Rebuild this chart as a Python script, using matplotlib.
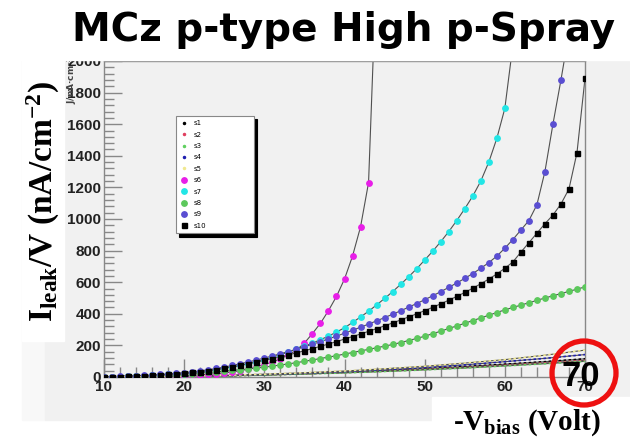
import matplotlib
matplotlib.use("Agg")
import matplotlib.pyplot as plt
from matplotlib.patches import Rectangle, Ellipse
from matplotlib.ticker import MultipleLocator

# bias voltage steps (V) and leakage current density (nA/cm^2)
V = list(range(10, 71))
V_LOW = [10, 15, 20, 25, 30, 35, 40, 45, 50, 55, 60, 65, 70]

s1 = [0, 2, 4, 8, 14, 21, 30, 40, 52, 66, 81, 97, 115]
s2 = [0, 1, 4, 8, 13, 20, 28, 37, 48, 60, 74, 89, 105]
s3 = [0, 1, 4, 7, 12, 19, 26, 35, 45, 57, 70, 84, 99]
s4 = [0, 2, 5, 9, 16, 24, 34, 46, 60, 77, 97, 118, 142]
s5 = [0, 2, 5, 10, 18, 27, 38, 52, 68, 88, 110, 138, 170]

s6 = [0, 0, 1, 1, 2, 2, 3, 4, 5, 7, 9,
      11, 14, 17, 21, 26, 32, 40, 50, 63, 78,
      95, 115, 140, 170, 215, 275, 340, 420, 510, 620,
      765, 950, 1230]
s7 = [1, 2, 3, 4, 6, 8, 10, 13, 16, 19, 22,
      27, 33, 40, 47, 55, 64, 74, 85, 97, 110,
      125, 141, 158, 176, 195, 215, 236, 259, 284, 312,
      345, 380, 416, 456, 497, 540, 586, 634, 685, 740,
      796, 856, 920, 990, 1065, 1145, 1240, 1360, 1510, 1700]
s8 = [1, 2, 3, 4, 5, 6, 8, 10, 13, 15, 18,
      21, 25, 29, 33, 37, 42, 46, 51, 56, 62,
      69, 76, 83, 91, 99, 108, 117, 126, 135, 145,
      155, 165, 175, 185, 195, 206, 218, 231, 244, 258,
      274, 290, 307, 323, 340, 357, 374, 391, 408, 425,
      440, 455, 470, 485, 500, 514, 528, 542, 556, 570]
s9 = [2, 3, 4, 6, 8, 10, 13, 16, 20, 24, 28,
      33, 39, 46, 54, 63, 73, 84, 95, 107, 120,
      133, 147, 161, 176, 191, 207, 224, 241, 259, 277,
      296, 315, 335, 355, 376, 397, 419, 442, 465, 489,
      514, 540, 567, 595, 624, 655, 688, 724, 765, 815,
      870, 930, 990, 1090, 1300, 1600, 1880]
s10 = [1, 2, 3, 4, 6, 8, 10, 13, 16, 20, 24,
       29, 34, 40, 47, 55, 64, 73, 83, 94, 105,
       116, 128, 140, 153, 166, 180, 194, 209, 224, 240,
       256, 272, 289, 306, 324, 342, 361, 380, 400, 420,
       441, 463, 486, 510, 535, 562, 590, 620, 652, 688,
       728, 790, 850, 910, 970, 1025, 1095, 1190, 1420, 1890]

# breakdown: connecting line runs off the top after the last point
TAIL_V = {"s6": 44, "s7": 61, "s9": 68}
TAIL_I = {"s6": 2600, "s7": 2100, "s9": 2180}

W, H = 630, 443


def fx(x):
    return x / W


def fy(y):
    return 1 - y / H


plt.rcParams["mathtext.fontset"] = "custom"
plt.rcParams["mathtext.rm"] = "Liberation Serif:bold"
plt.rcParams["mathtext.it"] = "Liberation Serif:bold"
plt.rcParams["mathtext.bf"] = "Liberation Serif:bold"

fig = plt.figure(figsize=(6.3, 4.43), dpi=100, facecolor="white")
fig.patches.append(Rectangle((fx(22), fy(420)), fx(23), (420 - 60) / H,
                             transform=fig.transFigure, color="#f8f8f8", zorder=-2))
fig.patches.append(Rectangle((fx(45), fy(420)), 1 - fx(45), (420 - 60) / H,
                             transform=fig.transFigure, color="#f1f1f1", zorder=-1))

ax = fig.add_axes([fx(104), fy(377), fx(585 - 104), (377 - 61) / H])
ax.set_facecolor("#f1f1f1")

line_kw = dict(color="#505050", lw=0.8, zorder=2)

low = [("s1", s1, "black"), ("s2", s2, "#e04060"), ("s3", s3, "#60d060"),
       ("s4", s4, "#2020b0"), ("s5", s5, "#f0e890")]
handles = []
for name, vals, c in low:
    ax.plot(V_LOW, vals, **line_kw)
    ax.plot(V_LOW, vals, color=c, lw=1.2, ls=(0, (1.5, 1.5)), zorder=3)
    h, = ax.plot([], [], ls="none", marker="o", ms=1.5, color=c, label=name)
    handles.append(h)

big = [("s6", s6, "#e81ee8", "o"), ("s7", s7, "#22e6e6", "o"),
       ("s8", s8, "#5cc85c", "o"), ("s9", s9, "#5a4ed2", "o"),
       ("s10", s10, "black", "s")]
for name, vals, c, m in big:
    xs = V[:len(vals)]
    lx, ly = list(xs), list(vals)
    if name in TAIL_V:
        lx.append(TAIL_V[name])
        ly.append(TAIL_I[name])
    ax.plot(lx, ly, **line_kw)
    ms = 3.6 if m == "s" else 3.9
    h, = ax.plot(xs, vals, ls="none", marker=m, ms=ms, color=c,
                 mec=c, zorder=4, label=name)
    handles.append(h)

ax.set_xlim(10, 70)
ax.set_ylim(0, 2000)
ax.xaxis.set_major_locator(MultipleLocator(10))
ax.xaxis.set_minor_locator(MultipleLocator(2))
ax.yaxis.set_major_locator(MultipleLocator(200))
ax.yaxis.set_minor_locator(MultipleLocator(40))
ax.tick_params(which="major", direction="in", length=13, width=1, color="#888888",
               labelsize=11, pad=2, labelcolor="#222222")
ax.tick_params(which="minor", direction="in", length=7, width=1, color="#888888")
ax.tick_params(top=False, right=False, which="both")
for lab in ax.get_xticklabels() + ax.get_yticklabels():
    lab.set_fontweight("bold")
    lab.set_family("Liberation Sans")
for sp in ax.spines.values():
    sp.set_color("#888888")
    sp.set_linewidth(1)

leg = ax.legend(handles=handles, loc="upper left", mode="expand",
                bbox_to_anchor=(fx(176), fy(233), fx(78), 117 / H),
                bbox_transform=fig.transFigure, borderaxespad=0,
                fontsize=5, labelspacing=0.78, handlelength=1.0,
                handletextpad=1.0, borderpad=0.6, fancybox=False,
                shadow={"color": "black", "alpha": 1, "ox": 2.5, "oy": -2.5},
                framealpha=1, edgecolor="#888888")
leg.get_frame().set_linewidth(0.8)

# leftover ROOT axis title peeking out beside the tick labels
fig.text(fx(71), fy(57), "J/nA·cm$^{-2}$", rotation=90, ha="center", va="top",
         fontsize=6.5, color="#444444", fontweight="bold")

# white panels over the plot
fig.patches.append(Rectangle((0, fy(60)), 1, 60 / H, transform=fig.transFigure,
                             color="white", zorder=5))
fig.patches.append(Rectangle((fx(22), fy(341)), fx(42), (341 - 40) / H,
                             transform=fig.transFigure, color="white", zorder=5))
fig.patches.append(Rectangle((fx(432), 0), 1 - fx(432), fy(397),
                             transform=fig.transFigure, color="white", zorder=5))

fig.text(fx(344), fy(30), "MCz p-type High p-Spray", ha="center", va="center",
         fontsize=28, fontweight="bold", zorder=6)
fig.text(fx(43), fy(202), r"I$_{\rm leak}$/V (nA/cm$^{-2}$)", rotation=90,
         ha="center", va="center", fontsize=24, family="Liberation Serif",
         fontweight="bold", zorder=6)
fig.text(fx(527), fy(423), r"-V$_{\rm bias}$ (Volt)", ha="center", va="center",
         fontsize=21, family="Liberation Serif", fontweight="bold", zorder=6)

fig.patches.append(Ellipse((fx(584), fy(373)), 64 / W, 64 / H, transform=fig.transFigure,
                           fill=False, edgecolor="#ee1111", lw=3.8, zorder=7))
fig.text(fx(581), fy(376), "70", ha="center", va="center", fontsize=25,
         family="Liberation Sans", fontweight="bold", zorder=8)

fig.savefig("out.png", dpi=100)
